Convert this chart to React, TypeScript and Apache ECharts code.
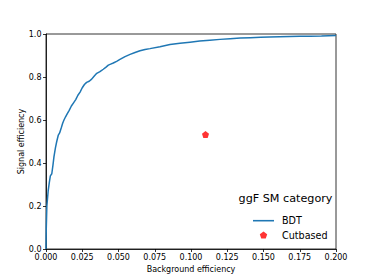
import React, { useEffect, useRef } from "react";
import * as echarts from "echarts";

const bdtX = [0, 0.0002, 0.0006, 0.0015, 0.0023, 0.003, 0.004, 0.0048, 0.0055, 0.0065, 0.0074, 0.0085, 0.0094, 0.0106, 0.0115, 0.0124, 0.0135, 0.0147, 0.016, 0.0175, 0.019, 0.0205, 0.022, 0.0235, 0.025, 0.0265, 0.028, 0.0298, 0.0315, 0.0333, 0.035, 0.0372, 0.0395, 0.0412, 0.043, 0.0446, 0.0464, 0.0487, 0.051, 0.0545, 0.058, 0.0614, 0.0648, 0.0683, 0.0717, 0.0786, 0.0855, 0.0924, 0.0993, 0.106, 0.113, 0.12, 0.127, 0.134, 0.141, 0.148, 0.154, 0.161, 0.168, 0.175, 0.182, 0.19, 0.2];
const bdtY = [0, 0.1, 0.2, 0.27, 0.31, 0.34, 0.35, 0.39, 0.43, 0.47, 0.5, 0.53, 0.54, 0.565, 0.585, 0.6, 0.615, 0.63, 0.645, 0.665, 0.68, 0.695, 0.715, 0.73, 0.75, 0.765, 0.775, 0.78, 0.79, 0.805, 0.817, 0.825, 0.836, 0.845, 0.855, 0.86, 0.865, 0.873, 0.882, 0.895, 0.905, 0.914, 0.922, 0.928, 0.932, 0.941, 0.951, 0.957, 0.962, 0.967, 0.971, 0.975, 0.978, 0.981, 0.983, 0.985, 0.986, 0.987, 0.988, 0.989, 0.99, 0.991, 0.993];
const cutX = [0.11];
const cutY = [0.532];
const seriesNames = ["BDT", "Cutbased"];
const legendTitle = "ggF SM category";

const FONT = "DejaVu Sans";
const pentagon = "path://M0,-1L0.951,-0.309L0.588,0.809L-0.588,0.809L-0.951,-0.309Z";

export default function App() {
  const ref = useRef<HTMLDivElement>(null);
  useEffect(() => {
    if (!ref.current) return;
    const chart = echarts.init(ref.current, null, { renderer: "svg" });
    chart.setOption({
      animation: false,
      backgroundColor: "#fff",
      grid: { left: 46, right: 38, top: 34, bottom: 31, show: true, borderColor: "#000", borderWidth: 0.8, backgroundColor: "transparent" },
      xAxis: {
        type: "value", min: 0, max: 0.2, interval: 0.025,
        name: "Background efficiency", nameLocation: "middle", nameGap: 16, nameMoveOverlap: false,
        nameTextStyle: { fontFamily: FONT, fontSize: 8, color: "#000" },
        axisLine: { show: true, onZero: false, lineStyle: { color: "#000", width: 0.8 } },
        axisTick: { show: true, length: 3, lineStyle: { color: "#000", width: 0.8 } },
        axisLabel: { margin: 4.5, fontFamily: FONT, fontSize: 8, color: "#000", formatter: (v: number) => v.toFixed(3) },
        splitLine: { show: false },
      },
      yAxis: {
        type: "value", min: 0, max: 1, interval: 0.2,
        name: "Signal efficiency", nameLocation: "middle", nameGap: 21, nameMoveOverlap: false,
        nameTextStyle: { fontFamily: FONT, fontSize: 8, color: "#000" },
        axisLine: { show: true, onZero: false, lineStyle: { color: "#000", width: 0.8 } },
        axisTick: { show: true, length: 3, lineStyle: { color: "#000", width: 0.8 } },
        axisLabel: { margin: 4.5, fontFamily: FONT, fontSize: 8, color: "#000", formatter: (v: number) => v.toFixed(1) },
        splitLine: { show: false },
      },
      legend: {
        orient: "vertical", left: 253, top: 215.7, padding: 0,
        itemWidth: 21, itemHeight: 7, itemGap: 4.3,
        textStyle: { fontFamily: FONT, fontSize: 9.6, color: "#000", lineHeight: 10, padding: [0, 0, 0, 3] },
        data: [
          { name: seriesNames[0], icon: "path://M0,0h20v1.5h-20z" },
          { name: seriesNames[1], icon: pentagon },
        ],
      },
      graphic: [
        { type: "text", x: 285.5, y: 198, style: { text: legendTitle, fontFamily: FONT, fontSize: 11.2, fill: "#000", align: "center", verticalAlign: "middle" } },
      ],
      series: [
        {
          name: seriesNames[0], type: "line", showSymbol: false, symbol: "none",
          data: bdtX.map((x, i) => [x, bdtY[i]]),
          lineStyle: { color: "#1f77b4", width: 1.5 }, itemStyle: { color: "#1f77b4" },
        },
        {
          name: seriesNames[1], type: "scatter", symbol: pentagon, symbolSize: 7,
          data: cutX.map((x, i) => [x, cutY[i]]),
          itemStyle: { color: "#ff0000" },
        },
      ],
    });
    return () => chart.dispose();
  }, []);
  return <div ref={ref} style={{ width: 374, height: 280, position: "absolute", left: 0, top: 0 }} />;
}
